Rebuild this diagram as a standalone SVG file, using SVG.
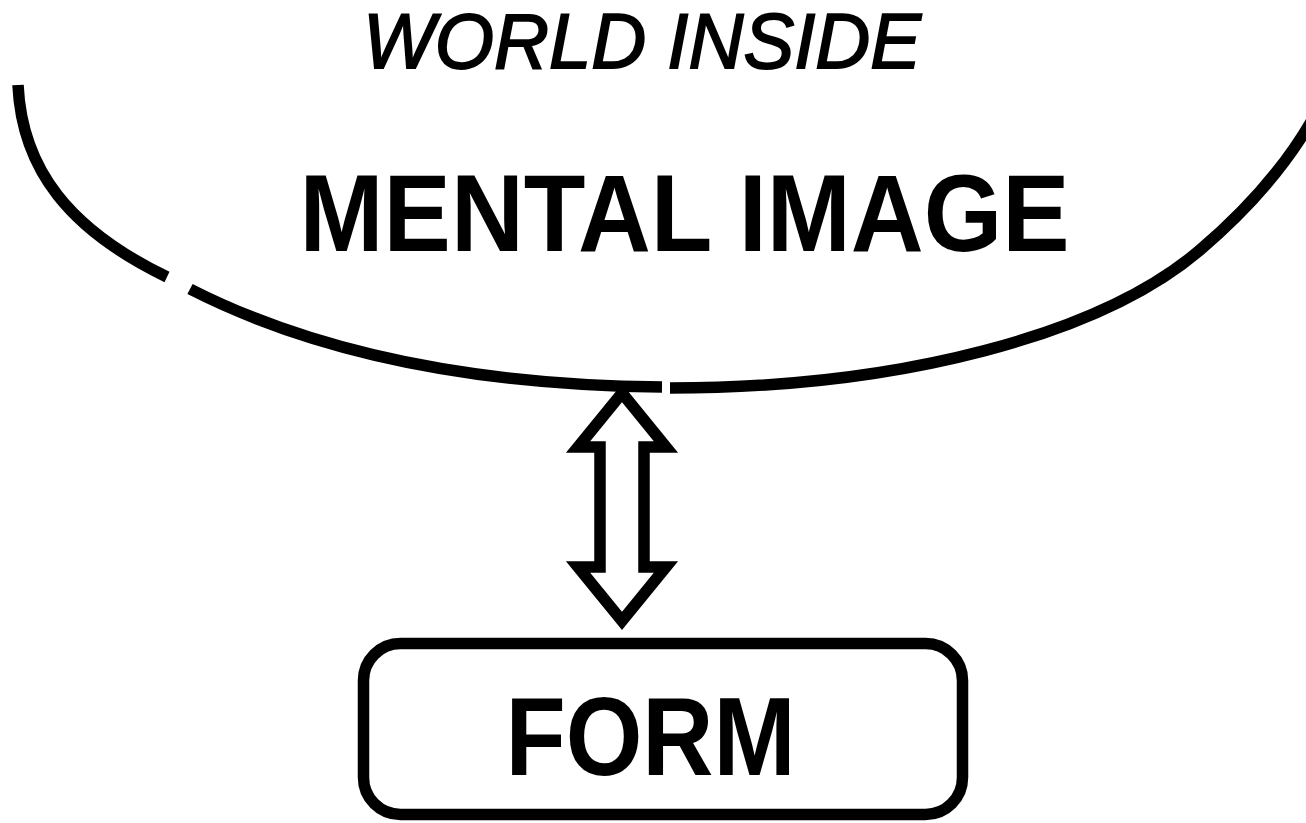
<svg xmlns="http://www.w3.org/2000/svg" width="1306" height="823" viewBox="0 0 1306 823">
  <style>
    .line { fill: none; stroke: #000; stroke-width: 11.5; stroke-linecap: butt; }
    .shape { fill: #fff; stroke: #000; stroke-width: 11.5; stroke-linejoin: miter; }
    .lbl { font-family: "Liberation Sans", Arial, sans-serif; fill: #000; text-anchor: middle; }
  </style>
  <rect width="1306" height="823" fill="#fff"/>
  <g id="mental-image">
    <path class="line" d="M18,85 C 22,170 70,230 167,277"/>
    <path class="line" d="M190,289 C 300,345 450,385 662,387"/>
    <path class="line" d="M670,388 C 900,388 1100,335 1200,250 C 1242,214.3 1282,172 1312,120"/>
    <text class="lbl" x="642" y="68" font-size="77" font-style="italic" stroke="#000" stroke-width="1.8" textLength="558" lengthAdjust="spacingAndGlyphs">WORLD INSIDE</text>
    <text class="lbl" x="684.5" y="251" font-size="109" font-weight="bold" textLength="770" lengthAdjust="spacingAndGlyphs">MENTAL IMAGE</text>
  </g>
  <g id="connectors">
    <polygon class="shape" points="622,393 666,447 644,447 644,567 666,567 622,621 578,567 600,567 600,447 578,447"/>
  </g>
  <g id="form">
    <rect class="shape" x="363.5" y="643.5" width="599" height="171" rx="37" ry="37"/>
    <text class="lbl" x="650.5" y="775" font-size="112" font-weight="bold" textLength="290" lengthAdjust="spacingAndGlyphs">FORM</text>
  </g>
</svg>
